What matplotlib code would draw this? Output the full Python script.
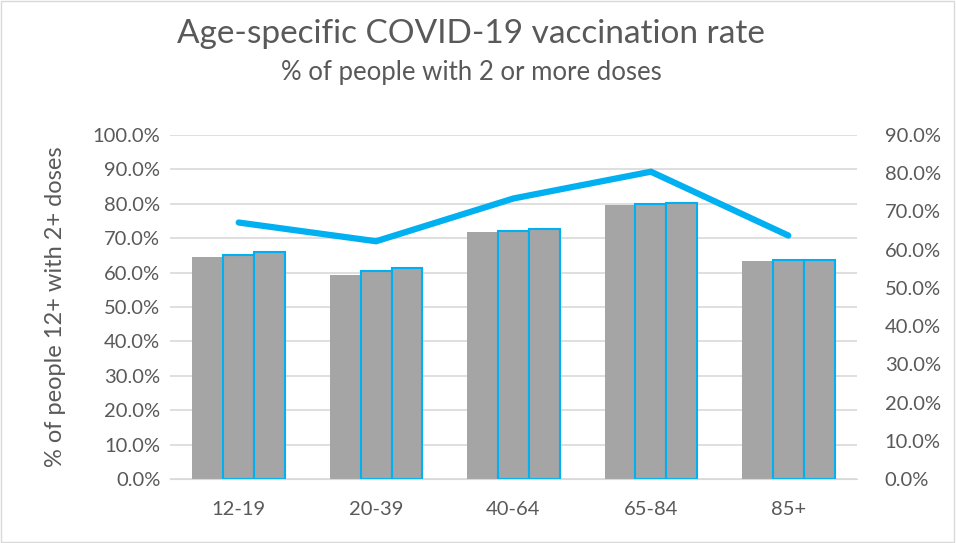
import numpy as np
import matplotlib
matplotlib.use("Agg")
from matplotlib import pyplot as plt
from matplotlib.ticker import PercentFormatter

ages = ["12-19", "20-39", "40-64", "65-84", "85+"]
dose_a = [64.5, 59.4, 71.7, 79.7, 63.5]
dose_b = [65.2, 60.4, 72.2, 80.0, 63.7]
dose_c = [66.0, 61.2, 72.8, 80.3, 63.7]
line_rate = [67.1, 62.2, 73.4, 80.4, 63.7]

grey = "#A5A5A5"
blue = "#00B0F0"
text_col = "#595959"

plt.rcParams["font.family"] = ["Lato", "DejaVu Sans"]

fig = plt.figure(figsize=(9.56, 5.43), dpi=100)
ax = fig.add_axes([170 / 956, 64 / 543, 687 / 956, 344 / 543])
ax2 = ax.twinx()

x = np.arange(len(ages))
w = 0.225
ax.bar(x - w, dose_a, w, color=grey, zorder=2)
ax.bar(x, dose_b, w, color=grey, edgecolor=blue, linewidth=1.5, zorder=2)
ax.bar(x + w, dose_c, w, color=grey, edgecolor=blue, linewidth=1.5, zorder=2)
ax2.plot(x, line_rate, color=blue, linewidth=4.5, solid_capstyle="round", solid_joinstyle="miter")

ax.set_xlim(-0.5, len(ages) - 0.5)
ax.set_ylim(0, 100)
ax2.set_ylim(0, 90)
ax.set_yticks(np.arange(0, 101, 10))
ax2.set_yticks(np.arange(0, 91, 10))
ax.yaxis.set_major_formatter(PercentFormatter(decimals=1))
ax2.yaxis.set_major_formatter(PercentFormatter(decimals=1))
ax.set_xticks(x)
ax.set_xticklabels(ages)

ax.grid(axis="y", color="#D9D9D9", linewidth=1.2, zorder=0)
ax.set_axisbelow(True)
for a in (ax, ax2):
    for s in a.spines.values():
        s.set_visible(False)
    a.tick_params(length=0, labelsize=14.5, colors=text_col, pad=8)
ax.spines["bottom"].set_visible(True)
ax.spines["bottom"].set_color("#D9D9D9")
ax.tick_params(axis="x", pad=16)
ax.tick_params(axis="y", pad=7)
ax2.tick_params(axis="y", pad=20)

ax.set_ylabel("% of people 12+ with 2+ doses", fontsize=17, color=text_col, labelpad=19)

fig.text(0.493, 0.938, "Age-specific COVID-19 vaccination rate", ha="center", va="center",
         fontsize=24, color=text_col)
fig.text(0.493, 0.866, "% of people with 2 or more doses", ha="center", va="center",
         fontsize=18.5, color=text_col)

border = plt.Rectangle((0.001, 0.001), 0.997, 0.997, transform=fig.transFigure,
                       fill=False, edgecolor="#D9D9D9", linewidth=1)
fig.add_artist(border)

fig.savefig("out.png", dpi=100)
